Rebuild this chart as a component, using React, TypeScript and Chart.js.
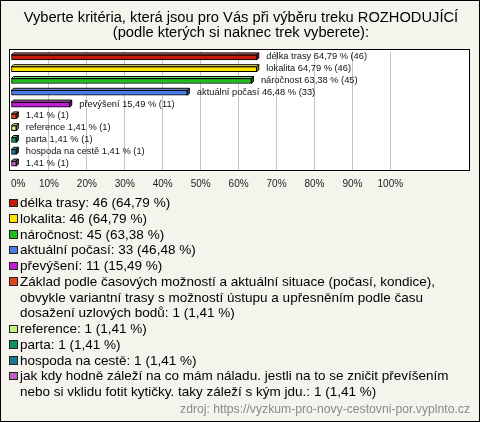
import React, { useEffect, useRef } from "react";
import { Chart, registerables } from "chart.js";

Chart.register(...registerables);

const TITLE_LINES = [
  "Vyberte kritéria, která jsou pro Vás při výběru treku ROZHODUJÍCÍ",
  "(podle kterých si naknec trek vyberete):",
];

const CATEGORIES = [
  "délka trasy",
  "lokalita",
  "náročnost",
  "aktuální počasí",
  "převýšení",
  "Základ podle časových možností a aktuální situace (počasí, kondice), obvykle variantní trasy s možností ústupu a upřesněním podle času dosažení uzlových bodů",
  "reference",
  "parta",
  "hospoda na cestě",
  "jak kdy hodně záleží na co mám náladu. jestli na to se zničit převíšením nebo si vklidu fotit kytičky. taky záleží s kým jdu.",
];

const BAR_NAMES = [
  "délka trasy",
  "lokalita",
  "náročnost",
  "aktuální počasí",
  "převýšení",
  "",
  "reference",
  "parta",
  "hospoda na cestě",
  "",
];

const COUNTS = [46, 46, 45, 33, 11, 1, 1, 1, 1, 1];
const PERCENTS = [64.79, 64.79, 63.38, 46.48, 15.49, 1.41, 1.41, 1.41, 1.41, 1.41];

const COLORS = [
  "#c01c0c",
  "#ffe400",
  "#20bc20",
  "#4a7ce6",
  "#c01ed0",
  "#e0461a",
  "#c8f07e",
  "#10905a",
  "#1a7890",
  "#c060c6",
];

const X_TICKS_MAX = 100;
const X_MAX = 121;
const SOURCE = "zdroj: https://vyzkum-pro-novy-cestovni-por.vyplnto.cz";

const FONT = '"Liberation Sans", Arial, sans-serif';

const fmt = (v: number) => v.toFixed(2).replace(".", ",");

function shade(hex: string, f: number): string {
  const n = parseInt(hex.slice(1), 16);
  let r = (n >> 16) & 255, g = (n >> 8) & 255, b = n & 255;
  if (f >= 0) {
    r = Math.round(r + (255 - r) * f);
    g = Math.round(g + (255 - g) * f);
    b = Math.round(b + (255 - b) * f);
  } else {
    r = Math.round(r * (1 + f));
    g = Math.round(g * (1 + f));
    b = Math.round(b * (1 + f));
  }
  return `rgb(${r},${g},${b})`;
}

const boxPlugin = {
  id: "boxPlugin",
  beforeDraw(chart: any) {
    const { ctx, chartArea: a } = chart;
    ctx.save();
    ctx.fillStyle = "#ffffff";
    ctx.fillRect(a.left - 1, a.top - 1.5, a.right - a.left + 1, a.bottom - a.top + 4);
    ctx.restore();
  },
  afterDraw(chart: any) {
    const { ctx, chartArea: a } = chart;
    ctx.save();
    ctx.strokeStyle = "#000000";
    ctx.lineWidth = 1;
    ctx.strokeRect(Math.round(a.left) - 1.5, Math.round(a.top) - 1.5, Math.round(a.right - a.left) + 1, Math.round(a.bottom - a.top) + 3);
    ctx.restore();
  },
};

const bar3dPlugin = {
  id: "bar3dPlugin",
  afterDatasetsDraw(chart: any) {
    const ctx = chart.ctx;
    const meta = chart.getDatasetMeta(0);
    const d = 2;
    ctx.save();
    meta.data.forEach((el: any, i: number) => {
      const x0 = Math.min(el.base, el.x);
      const x1 = Math.max(el.base, el.x);
      const y0 = el.y - el.height / 2;
      const y1 = el.y + el.height / 2;
      const c = COLORS[i];
      ctx.lineWidth = 1;
      ctx.strokeStyle = "#000";
      ctx.beginPath();
      ctx.moveTo(x0, y0);
      ctx.lineTo(x0 + d, y0 - d);
      ctx.lineTo(x1 + d, y0 - d);
      ctx.lineTo(x1, y0);
      ctx.closePath();
      ctx.fillStyle = shade(c, 0.35);
      ctx.fill();
      ctx.stroke();
      ctx.beginPath();
      ctx.moveTo(x1, y0);
      ctx.lineTo(x1 + d, y0 - d);
      ctx.lineTo(x1 + d, y1 - d);
      ctx.lineTo(x1, y1);
      ctx.closePath();
      ctx.fillStyle = shade(c, -0.3);
      ctx.fill();
      ctx.stroke();
      const name = BAR_NAMES[i];
      const txt = (name ? name + " " : "") + fmt(PERCENTS[i]) + " % (" + COUNTS[i] + ")";
      ctx.fillStyle = "#111";
      ctx.font = `9.3px ${FONT}`;
      ctx.textAlign = "left";
      ctx.textBaseline = "middle";
      ctx.fillText(txt, x1 + 9.5, el.y - 0.5);
    });
    ctx.restore();
  },
};

function ChartCanvas() {
  const ref = useRef<HTMLCanvasElement | null>(null);
  useEffect(() => {
    if (!ref.current) return;
    const chart = new Chart(ref.current, {
      type: "bar",
      data: {
        labels: CATEGORIES,
        datasets: [
          {
            data: PERCENTS,
            backgroundColor: COLORS,
            borderColor: "#000",
            borderWidth: 1,
            borderSkipped: false,
            barThickness: 5,
          },
        ],
      },
      options: {
        indexAxis: "y",
        animation: false,
        responsive: false,
        maintainAspectRatio: false,
        layout: { padding: { left: 10, right: 8.2, top: 0, bottom: 0 } },
        plugins: {
          legend: { display: false },
          tooltip: { enabled: false },
          title: {
            display: true,
            text: TITLE_LINES,
            color: "#000",
            font: { family: FONT, size: 14.7, weight: "normal", lineHeight: 1.02 },
            padding: { top: 9.5, bottom: 11 },
          },
        },
        scales: {
          x: {
            type: "linear",
            min: 0,
            max: X_MAX,
            border: { display: false },
            grid: {
              drawTicks: false,
              color: (c: any) =>
                c.tick && c.tick.value > 0 && c.tick.value <= X_TICKS_MAX ? "#c4c4c4" : "rgba(0,0,0,0)",
              lineWidth: 1,
            },
            ticks: {
              stepSize: 10,
              align: "inner",
              padding: 9,
              color: "#222",
              font: { family: FONT, size: 10 },
              maxRotation: 0,
              autoSkip: false,
              callback: (v: any) => (Number(v) <= X_TICKS_MAX && Number(v) % 10 === 0 ? v + "%" : ""),
            },
            afterFit: (s: any) => {
              s.height = 26.5;
            },
          },
          y: {
            type: "category",
            display: false,
          },
        },
      },
      plugins: [boxPlugin, bar3dPlugin],
    } as any);
    return () => chart.destroy();
  }, []);
  return (
    <canvas
      ref={ref}
      width={478}
      height={195}
      style={{ position: "absolute", left: 0, top: 0, width: 478, height: 195 }}
    />
  );
}

export default function App() {
  useEffect(() => {
    document.body.style.margin = "0";
  }, []);
  return (
    <div
      style={{
        position: "relative",
        width: 480,
        height: 422,
        boxSizing: "border-box",
        border: "1px solid #000",
        background: "#f4f3ec",
        fontFamily: FONT,
        overflow: "hidden",
      }}
    >
      <ChartCanvas />
      <div style={{ position: "absolute", left: 0, top: 194, width: 478 }}>
        {CATEGORIES.map((c, i) => (
          <div key={i} style={{ position: "relative", paddingLeft: 19, width: 450, fontSize: 13.5, lineHeight: "15.75px", color: "#000" }}>
            <span
              style={{
                position: "absolute",
                left: 8,
                top: 3.5,
                width: 6.5,
                height: 6.5,
                border: "1px solid #222",
                background: COLORS[i],
              }}
            />
            {c}: {COUNTS[i]} ({fmt(PERCENTS[i])} %)
          </div>
        ))}
      </div>
      <div style={{ position: "absolute", right: 9, top: 401, fontSize: 12.2, lineHeight: "14px", color: "#8a8a8a" }}>{SOURCE}</div>
    </div>
  );
}
